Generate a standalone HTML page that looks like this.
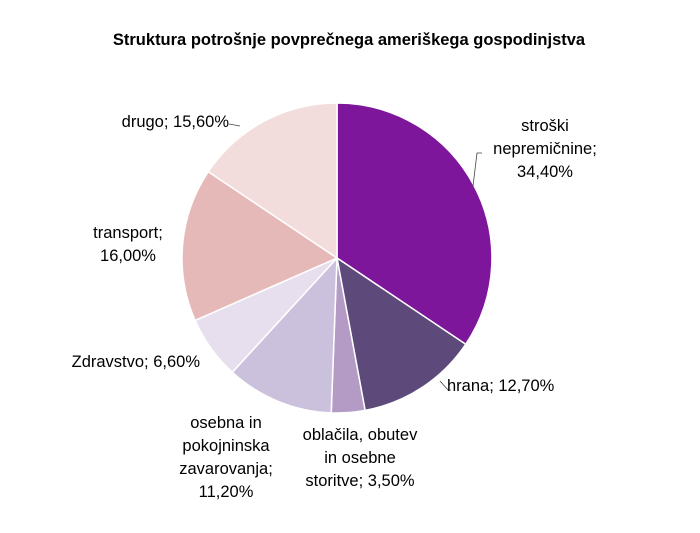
<!DOCTYPE html>
<html><head><meta charset="utf-8"><style>
body{margin:0;background:#fff;}
svg{display:block;font-family:"Liberation Sans",Calibri,sans-serif;}
</style></head><body>
<svg width="700" height="533" viewBox="0 0 700 533" xmlns="http://www.w3.org/2000/svg">
<rect width="700" height="533" fill="#fff"/>
<text x="349" y="45" text-anchor="middle" font-size="16.5" font-weight="bold" fill="#000">Struktura potrošnje povprečnega ameriškega gospodinjstva</text>
<g stroke="#fff" stroke-width="1.5">
<path d="M337,258 L337,103 A155,155 0 0 1 465.7,344.3 Z" fill="#7E169B"/>
<path d="M337,258 L465.7,344.3 A155,155 0 0 1 365.1,410.4 Z" fill="#5D4A7B"/>
<path d="M337,258 L365.1,410.4 A155,155 0 0 1 331.2,412.9 Z" fill="#B49BC6"/>
<path d="M337,258 L331.2,412.9 A155,155 0 0 1 232.3,372.3 Z" fill="#CBC1DD"/>
<path d="M337,258 L232.3,372.3 A155,155 0 0 1 195.1,320.4 Z" fill="#E7DFEE"/>
<path d="M337,258 L195.1,320.4 A155,155 0 0 1 208.3,171.7 Z" fill="#E6B9B9"/>
<path d="M337,258 L208.3,171.7 A155,155 0 0 1 337,103 Z" fill="#F2DCDC"/>
</g>
<g stroke="#444" stroke-width="0.8" fill="none">
<path d="M473,186 L477,153 L482,153"/>
<path d="M440,381 L448,390 L451,390"/>
<path d="M229,124 L240,126"/>
</g>
<g font-size="16.5" fill="#000">
<text x="545" y="131" text-anchor="middle">stroški</text>
<text x="545" y="154" text-anchor="middle">nepremičnine;</text>
<text x="545" y="177" text-anchor="middle">34,40%</text>
<text x="447" y="391">hrana; 12,70%</text>
<text x="360" y="440" text-anchor="middle">oblačila, obutev</text>
<text x="360" y="463" text-anchor="middle">in osebne</text>
<text x="360" y="486" text-anchor="middle">storitve; 3,50%</text>
<text x="226" y="428" text-anchor="middle">osebna in</text>
<text x="226" y="451" text-anchor="middle">pokojninska</text>
<text x="226" y="474" text-anchor="middle">zavarovanja;</text>
<text x="226" y="497" text-anchor="middle">11,20%</text>
<text x="200" y="367" text-anchor="end">Zdravstvo; 6,60%</text>
<text x="128" y="238" text-anchor="middle">transport;</text>
<text x="128" y="261" text-anchor="middle">16,00%</text>
<text x="229" y="127" text-anchor="end">drugo; 15,60%</text>
</g>
</svg>
</body></html>
